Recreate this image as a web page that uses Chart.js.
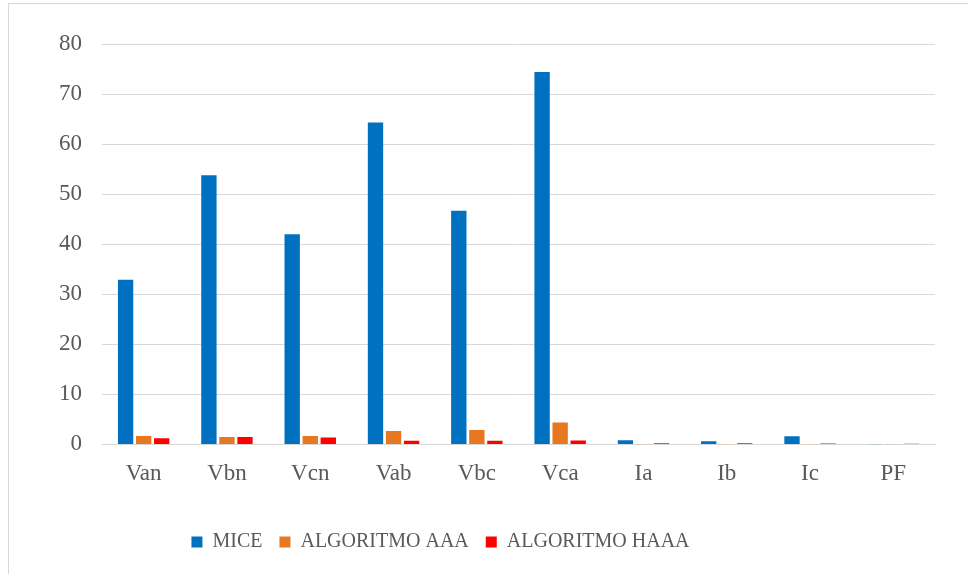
<!DOCTYPE html>
<html>
<head>
<meta charset="utf-8">
<script src="https://cdn.jsdelivr.net/npm/chart.js@4/dist/chart.umd.min.js"></script>
<style>
  html, body { margin: 0; padding: 0; background: #ffffff; }
  #wrap { position: relative; width: 968px; height: 574px; overflow: hidden; }
  #frame { position: absolute; left: 8px; top: 3px; width: 980px; height: 600px;
           border-left: 1px solid #d9d9d9; border-top: 1px solid #d9d9d9; box-sizing: border-box; }
  canvas { position: absolute; left: 0; top: 0; }
</style>
</head>
<body>
<div id="wrap">
  <div id="frame"></div>
  <canvas id="chart" width="968" height="574"></canvas>
</div>
<script>
// Error per variable for each imputation method
const categories = ['Van', 'Vbn', 'Vcn', 'Vab', 'Vbc', 'Vca', 'Ia', 'Ib', 'Ic', 'PF'];
const miceValues = [32.9, 53.8, 42.0, 64.3, 46.7, 74.4, 0.85, 0.65, 1.65, 0.03];
const aaaValues  = [1.7, 1.5, 1.7, 2.7, 2.9, 4.4, 0.05, 0.05, 0.05, 0.02];
const haaaValues = [1.25, 1.5, 1.4, 0.75, 0.75, 0.8, 0.25, 0.25, 0.2, 0.15];
const seriesNames = ['MICE', 'ALGORITMO AAA', 'ALGORITMO HAAA'];
const yTicks = [0, 10, 20, 30, 40, 50, 60, 70, 80];

const textColor = '#595959';
const gridColor = '#d9d9d9';

// Shift the legend row horizontally after layout
const legendShift = {
  id: 'legendShift',
  afterLayout(chart, args, opts) {
    const lg = chart.legend;
    if (lg) { lg.left += opts.dx; lg.right += opts.dx; }
  }
};

new Chart(document.getElementById('chart'), {
  type: 'bar',
  data: {
    labels: categories,
    datasets: [
      { label: seriesNames[0], data: miceValues, backgroundColor: '#0070c0' },
      { label: seriesNames[1], data: aaaValues,  backgroundColor: '#e67820' },
      { label: seriesNames[2], data: haaaValues, backgroundColor: '#ff0000' }
    ]
  },
  options: {
    responsive: false,
    animation: false,
    devicePixelRatio: 1,
    layout: { padding: { top: 44, right: 33, bottom: 12, left: 0 } },
    datasets: { bar: { categoryPercentage: 0.65, barPercentage: 0.85 } },
    scales: {
      x: {
        grid: { display: false, drawTicks: false },
        border: { display: true, color: gridColor, width: 1 },
        afterFit(scale) { scale.height += 11; },
        ticks: { color: textColor, font: { family: 'Liberation Serif', size: 23 }, padding: 16, maxRotation: 0 }
      },
      y: {
        min: 0, max: 80,
        afterBuildTicks(scale) { scale.ticks = yTicks.map(v => ({ value: v })); },
        afterFit(scale) { scale.width = 102; },
        grid: { color: gridColor, lineWidth: 1, drawTicks: false },
        border: { display: false },
        ticks: { color: textColor, font: { family: 'Liberation Serif', size: 23 }, padding: 20 }
      }
    },
    plugins: {
      legend: {
        position: 'bottom',
        labels: {
          color: textColor,
          font: { family: 'Liberation Serif', size: 20 },
          boxWidth: 11, boxHeight: 11,
          padding: 17
        }
      },
      legendShift: { dx: -27 },
      tooltip: { enabled: false }
    }
  },
  plugins: [legendShift]
});
</script>
</body>
</html>
